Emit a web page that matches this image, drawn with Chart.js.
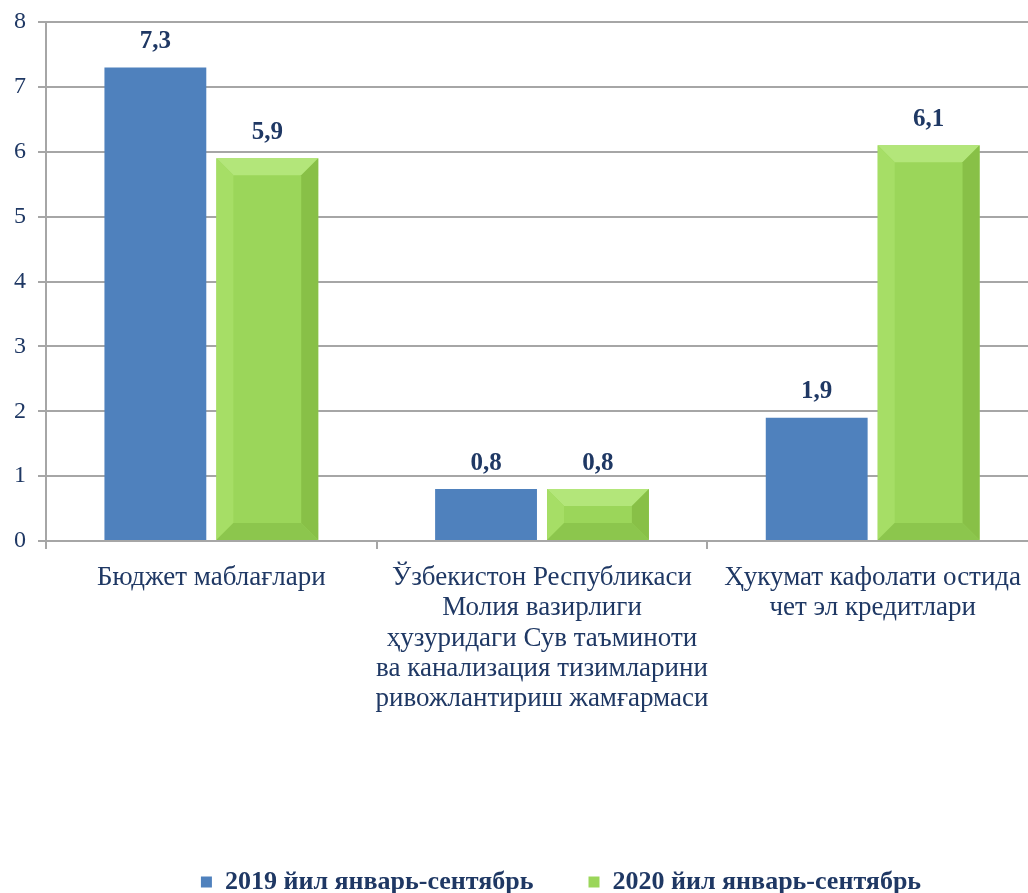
<!DOCTYPE html>
<html>
<head>
<meta charset="utf-8">
<script src="https://cdn.jsdelivr.net/npm/chart.js@4.4.1/dist/chart.umd.min.js"></script>
<style>
    html, body { margin: 0; padding: 0; background: #fff; overflow: hidden; }
    #wrap { width: 1028px; height: 893px; overflow: hidden; position: relative; }
    #chart { position: absolute; left: 0; top: 0; }
</style>
</head>
<body>
<div id="wrap"><canvas id="chart" width="1120" height="893"></canvas></div>
<script>
var categories = [
    'Бюджет маблағлари',
    ['Ўзбекистон Республикаси', 'Молия вазирлиги', 'ҳузуридаги Сув таъминоти', 'ва канализация тизимларини', 'ривожлантириш жамғармаси'],
    ['Ҳукумат кафолати остида', 'чет эл кредитлари']
];
var values2019 = [7.3, 0.8, 1.9];
var values2020 = [5.9, 0.8, 6.1];
var seriesNames = ['2019 йил январь-сентябрь', '2020 йил январь-сентябрь'];
var yTicks = [0, 1, 2, 3, 4, 5, 6, 7, 8];

var navy = '#1F3864';
var gridGrey = '#A6A6A6';
var serif = '"Liberation Serif", "DejaVu Serif", serif';

// bevel look on the green bars
var bevelPlugin = {
    id: 'bevel',
    afterDatasetDraw: function(chart, args) {
        if (args.index !== 1) return;
        let ctx = chart.ctx;
        args.meta.data.forEach(function(bar) {
            let l = bar.x - bar.width / 2, r = bar.x + bar.width / 2;
            let t = bar.y, b = bar.base;
            let d = Math.min(17, (b - t) / 2, bar.width / 2);
            let poly = function(pts, color) {
                ctx.beginPath();
                ctx.moveTo(pts[0][0], pts[0][1]);
                pts.slice(1).forEach(p => ctx.lineTo(p[0], p[1]));
                ctx.closePath();
                ctx.fillStyle = color;
                ctx.fill();
            };
            ctx.save();
            poly([[l, t], [r, t], [r - d, t + d], [l + d, t + d]], '#B3E67A');
            poly([[l, t], [l + d, t + d], [l + d, b - d], [l, b]], '#A6DE66');
            poly([[r, t], [r, b], [r - d, b - d], [r - d, t + d]], '#88C047');
            poly([[l, b], [l + d, b - d], [r - d, b - d], [r, b]], '#8CC64D');
            ctx.restore();
        });
    }
};

var valueLabels = {
    id: 'valueLabels',
    afterDatasetsDraw: function(chart) {
        let ctx = chart.ctx;
        ctx.save();
        ctx.font = 'bold 25px ' + serif;
        ctx.fillStyle = navy;
        ctx.textAlign = 'center';
        ctx.textBaseline = 'middle';
        chart.data.datasets.forEach(function(ds, i) {
            chart.getDatasetMeta(i).data.forEach(function(bar, j) {
                ctx.fillText(ds.data[j].toFixed(1).replace('.', ','), bar.x, bar.y - 26);
            });
        });
        ctx.restore();
    }
};

new Chart(document.getElementById('chart').getContext('2d'), {
    type: 'bar',
    data: {
        labels: categories,
        datasets: [{
            label: seriesNames[0],
            data: values2019,
            backgroundColor: '#4F81BD',
            borderWidth: 0,
            barPercentage: 0.91,
            categoryPercentage: 0.677
        }, {
            label: seriesNames[1],
            data: values2020,
            backgroundColor: '#9BD65A',
            borderWidth: 0,
            barPercentage: 0.91,
            categoryPercentage: 0.677
        }]
    },
    plugins: [bevelPlugin, valueLabels],
    options: {
        responsive: false,
        animation: false,
        layout: { padding: { left: 2, top: 22, right: 0, bottom: -12 } },
        plugins: {
            tooltip: { enabled: false },
            legend: {
                position: 'bottom',
                labels: {
                    boxWidth: 11,
                    boxHeight: 11,
                    padding: 55,
                    color: navy,
                    font: { family: serif, size: 26, weight: 'bold' }
                }
            }
        },
        scales: {
            x: {
                grid: { display: true, drawOnChartArea: false, drawTicks: true, tickLength: 8, color: gridGrey, lineWidth: 2, offset: true },
                border: { color: gridGrey, width: 2 },
                ticks: { color: navy, font: { family: serif, size: 27, lineHeight: 1.12 }, padding: 14, maxRotation: 0, autoSkip: false },
                afterFit: function(scale) { scale.height = 273; }
            },
            y: {
                min: 0,
                max: 8,
                afterBuildTicks: function(scale) { scale.ticks = yTicks.map(v => ({ value: v })); },
                ticks: { color: navy, font: { family: serif, size: 24 }, padding: 12 },
                grid: { color: gridGrey, lineWidth: 2, tickLength: 8 },
                border: { color: gridGrey, width: 2 },
                afterFit: function(scale) { scale.paddingTop = 0; scale.paddingBottom = 0; }
            },
            yRight: {
                position: 'right',
                display: true,
                ticks: { display: false },
                grid: { display: false, drawTicks: false },
                border: { display: false },
                afterFit: function(scale) { scale.width = 82; scale.paddingTop = 0; scale.paddingBottom = 0; }
            }
        }
    }
});
</script>
</body>
</html>
